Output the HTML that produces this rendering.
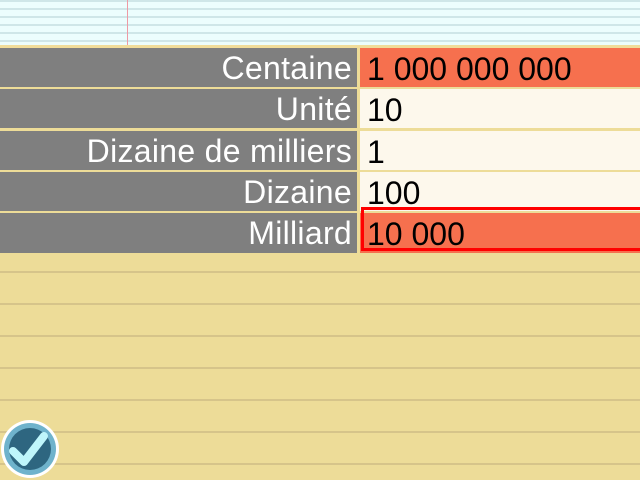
<!DOCTYPE html>
<html><head><meta charset="utf-8"><style>
body{margin:0;width:640px;height:480px;overflow:hidden;position:relative;background:#eddc98;font-family:"Liberation Sans",sans-serif}
.top{position:absolute;left:0;top:0;width:640px;height:45px;background:#ecfdfd;
background-image:repeating-linear-gradient(to bottom,#cfe6e8 0,#cfe6e8 2px,transparent 2px,transparent 8px)}
.margin{position:absolute;left:127px;top:0;width:1px;height:45px;background:#ee9aa4}
.sep{position:absolute;left:0;top:45px;width:640px;height:3px;background:#f0dc9a}
.row{position:absolute;left:0;width:640px;height:39px}
.lab{position:absolute;left:0;top:0;width:357px;height:100%;background:#7f7f7f;color:#fff;font-size:32px;text-align:right;box-sizing:border-box;padding-right:5px;line-height:40px;letter-spacing:0.3px}
.val{position:absolute;left:360px;top:0;right:0;height:100%;background:#fdf8ec;color:#000;font-size:32px;padding-left:7px;line-height:42px}
.val.hi{background:#f6704e}
.lines{position:absolute;left:0;top:254px;width:640px;height:226px;
background-image:repeating-linear-gradient(to bottom,transparent 0,transparent 17px,#d6c48a 17px,#d6c48a 19px,transparent 19px,transparent 32px)}
.box{position:absolute;left:361px;top:207px;width:285px;height:44px;border:3px solid #f00;box-sizing:border-box}
</style></head><body>
<div class="top"></div>
<div class="margin"></div>
<div class="sep"></div>
<div class="lines"></div>
<div class="row" style="top:48px"><div class="lab">Centaine</div><div class="val hi">1 000 000 000</div></div>
<div class="row" style="top:89px"><div class="lab">Unité</div><div class="val">10</div></div>
<div class="row" style="top:131px"><div class="lab">Dizaine de milliers</div><div class="val">1</div></div>
<div class="row" style="top:172px"><div class="lab">Dizaine</div><div class="val">100</div></div>
<div class="row" style="top:213px;height:40px"><div class="lab">Milliard</div><div class="val hi">10 000</div></div>
<div class="box"></div>
<svg style="position:absolute;left:0;top:418px" width="62" height="62">
<circle cx="30" cy="31" r="29" fill="#fff"/>
<circle cx="30" cy="31" r="26" fill="#6fb3cc"/>
<circle cx="30" cy="31" r="21" fill="#2e6680"/>
<path d="M13 33 L24 44 L44 18" stroke="#bff6fb" stroke-width="8" fill="none" stroke-linecap="round" stroke-linejoin="round"/>
</svg>
</body></html>
